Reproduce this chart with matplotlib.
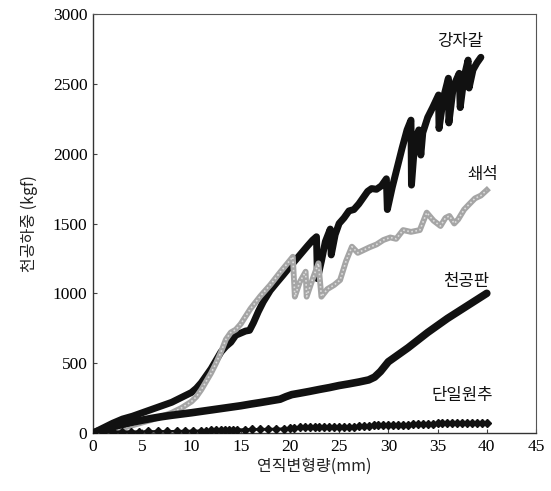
import matplotlib
matplotlib.use("Agg")
import matplotlib.pyplot as plt

# 강자갈 (steel gravel)
gravel_x = [0, 1, 2, 3, 4, 5, 6, 7, 8, 9, 10, 10.5, 11, 11.5, 12, 12.5, 13, 13.5, 14, 14.5,
            15, 15.5, 15.9, 16.3, 16.8, 17.3, 18, 18.7, 19.3, 20, 20.6, 21.2, 21.8, 22.3, 22.7,
            22.8, 23.2, 23.6, 24.1, 24.2, 24.6, 25.0, 25.5, 26.0, 26.5, 27.0, 27.4, 27.9, 28.3,
            28.8, 29.3, 29.8, 29.9, 30.4, 30.9, 31.4, 31.9, 32.3, 32.35, 32.7, 33.1, 33.3, 33.5,
            34.0, 34.5, 35.1, 35.15, 35.6, 36.1, 36.15, 36.6, 37.2, 37.3, 37.7, 38.1, 38.2, 38.6,
            39.0, 39.4]
gravel_y = [0, 35, 70, 100, 120, 145, 170, 195, 220, 255, 290, 320, 360, 410, 460, 520, 580, 620, 650, 700,
            715, 730, 735, 790, 870, 940, 1020, 1080, 1130, 1190, 1240, 1290, 1340, 1380, 1405,
            1105, 1230, 1370, 1460, 1275, 1420, 1500, 1540, 1590, 1600, 1640, 1680, 1730, 1750,
            1745, 1770, 1820, 1600, 1760, 1900, 2040, 2170, 2240, 1775, 2100, 2170, 1990, 2150,
            2260, 2330, 2420, 2180, 2400, 2540, 2220, 2480, 2575, 2330, 2550, 2670, 2470, 2600,
            2650, 2690]

# 쇄석 (crushed stone)
crushed_x = [0, 1, 2, 3, 4, 5, 6, 7, 8, 9, 10, 10.5, 11, 11.5, 12, 12.5, 13, 13.5, 14, 14.5,
             15, 16, 17, 18, 19, 19.7, 20.3, 20.5, 21.0, 21.6, 21.7, 22.3, 22.9, 23.2, 23.8,
             24.5, 25.1, 25.7, 26.3, 26.9, 27.5, 28.1, 28.8, 29.5, 30.2, 30.8, 31.5, 32.3, 33.2,
             33.9, 34.6, 35.3, 35.8, 36.2, 36.7, 37.1, 37.7, 38.2, 38.8, 39.4, 40.0]
crushed_y = [0, 10, 20, 35, 55, 75, 95, 120, 145, 180, 225, 260, 310, 370, 430, 500, 580, 670, 720, 740,
             780, 890, 980, 1060, 1150, 1210, 1262, 976, 1080, 1155, 976, 1100, 1215, 976, 1030,
             1060, 1095, 1230, 1334, 1290, 1310, 1330, 1350, 1382, 1400, 1390, 1453, 1440, 1453,
             1578, 1520, 1482, 1540, 1554, 1500, 1530, 1600, 1637, 1680, 1700, 1739]

# 천공판 (perforated plate)
plate_x = [0, 1, 2, 3, 4, 5, 6, 7, 8, 9, 10, 11, 12, 13, 14, 15, 16, 17, 18, 19, 19.6, 20.2,
           21, 22, 23, 24, 25, 26, 27, 28, 28.6, 29.2, 30, 31, 32, 33, 34, 35, 36, 37, 38, 39, 40]
plate_y = [0, 25, 45, 62, 78, 92, 105, 117, 127, 136, 145, 155, 165, 175, 185, 195, 207, 218, 230,
           242, 260, 275, 285, 298, 312, 325, 340, 352, 365, 380, 400, 440, 510, 560, 610, 665,
           720, 770, 820, 865, 910, 955, 1000]

# 단일원추 (single cone)
cone_x = [0, 1, 2.0, 2.9, 3.9, 4.7, 5.6, 6.6, 7.5, 8.5, 9.3, 10.2, 11.0, 11.5, 12.0, 12.5, 13.0,
          13.4, 13.8, 14.2, 14.6, 15.4, 16.2, 17.0, 17.8, 18.6, 19.4, 20.0, 20.4,
          21.0, 21.5, 22, 22.5, 23, 23.5, 24, 24.5, 25, 25.5, 26, 26.5, 27, 27.5, 28, 28.5, 29,
          29.5, 30, 30.5, 31, 31.5, 32, 32.5, 33, 33.5, 34, 34.5, 35, 35.5, 36, 36.5, 37, 37.5,
          38, 38.5, 39, 39.5, 40]
cone_y = [0, 5, 8, 10, 10, 10, 11, 12, 12, 13, 14, 15, 16, 17, 18, 19, 20,
          22, 23, 23, 24, 25, 26, 27, 28, 29, 31, 35, 38,
          40, 40, 41, 41, 42, 42, 43, 43, 44, 45, 45, 46, 47, 47, 48, 54, 55,
          56, 57, 58, 58, 59, 60, 61, 62, 63, 64, 66, 70, 71, 71, 72, 72, 73,
          73, 74, 74, 75, 75]

series_labels = ["강자갈", "쇄석", "천공판", "단일원추"]
x_ticks = [0, 5, 10, 15, 20, 25, 30, 35, 40, 45]
y_ticks = [0, 500, 1000, 1500, 2000, 2500, 3000]

fig = plt.figure(figsize=(5.51, 4.91), dpi=100)
ax = fig.add_axes([93 / 551, 1 - 433 / 491, (536 - 93) / 551, (433 - 14) / 491])

ax.plot(gravel_x, gravel_y, color="#111111", lw=5, solid_joinstyle="round",
        solid_capstyle="round", zorder=2)
ax.plot(crushed_x, crushed_y, color="#a5a5a5", lw=4.2, solid_joinstyle="round", zorder=3)
ax.plot(crushed_x, crushed_y, color="#dcdcdc", lw=1.2, ls=(0, (1, 1.5)), zorder=3)
ax.plot(plate_x, plate_y, color="#111111", lw=5.5, solid_capstyle="round", zorder=4)
ax.plot(cone_x, cone_y, color="#111111", lw=1.8, marker="D", ms=4.5, zorder=5)

ax.set_xlim(0, 45)
ax.set_ylim(0, 3000)
ax.set_xticks(x_ticks)
ax.set_yticks(y_ticks)

serif = ["Liberation Serif", "DejaVu Serif"]
kr = ["Noto Sans CJK KR", "DejaVu Sans"]
for lab in ax.get_xticklabels() + ax.get_yticklabels():
    lab.set_family(serif)
    lab.set_fontsize(12.5)
ax.tick_params(direction="in", length=3, width=0.8, color="#444444", pad=4)

for side in ["left", "bottom"]:
    ax.spines[side].set_linewidth(1.0)
    ax.spines[side].set_color("#333333")
for side in ["top", "right"]:
    ax.spines[side].set_linewidth(0.8)
    ax.spines[side].set_color("#555555")

ax.set_xlabel("연직변형량(mm)", family=kr, fontsize=11.5, color="#222222", labelpad=2)
ax.set_ylabel("천공하중 (kgf)", family=kr, fontsize=11.5, color="#222222", labelpad=11)

label_pos = [(37.3, 2806), (39.6, 1850), (37.9, 1088), (37.5, 265)]
for text, (tx, ty) in zip(series_labels, label_pos):
    ax.text(tx, ty, text, family=kr, fontsize=12, ha="center", va="center", color="#111111")

fig.savefig("out.png", dpi=100)
